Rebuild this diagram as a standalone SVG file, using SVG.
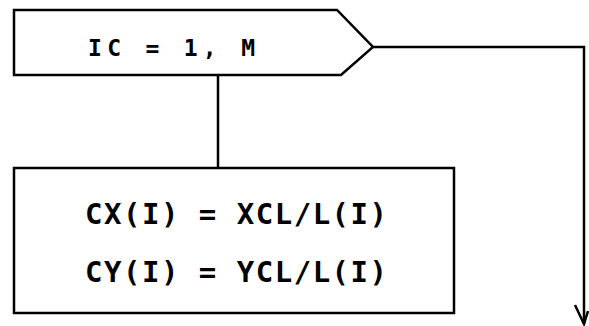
<svg xmlns="http://www.w3.org/2000/svg" width="589" height="326" viewBox="0 0 589 326">
<defs>
<style>
.ln{fill:none;stroke:#000;stroke-width:2.5;stroke-linejoin:miter}
.t{font-family:"DejaVu Sans Mono","Liberation Mono",monospace;font-weight:bold;fill:#000}
</style>
</defs>
<rect width="589" height="326" fill="#fff"/>
<g id="loop">
<path class="ln" d="M14,10 L337,10 L373,47 L341,75 L14,75 Z"/>
<text class="t" x="88" y="56" font-size="23" textLength="167" lengthAdjust="spacing">IC = 1, M</text>
</g>
<g id="calc">
<rect class="ln" x="14" y="168" width="440" height="145"/>
<text class="t" x="85" y="224" font-size="29" textLength="302" lengthAdjust="spacing">CX(I) = XCL/L(I)</text>
<text class="t" x="85" y="282" font-size="29" textLength="302" lengthAdjust="spacing">CY(I) = YCL/L(I)</text>
</g>
<g id="connectors">
<path class="ln" d="M218,75 L218,168"/>
<path class="ln" d="M373,47 L584,47 L584,324"/>
<path class="ln" d="M575,305 L584,324 L588,311"/>
</g>
</svg>
